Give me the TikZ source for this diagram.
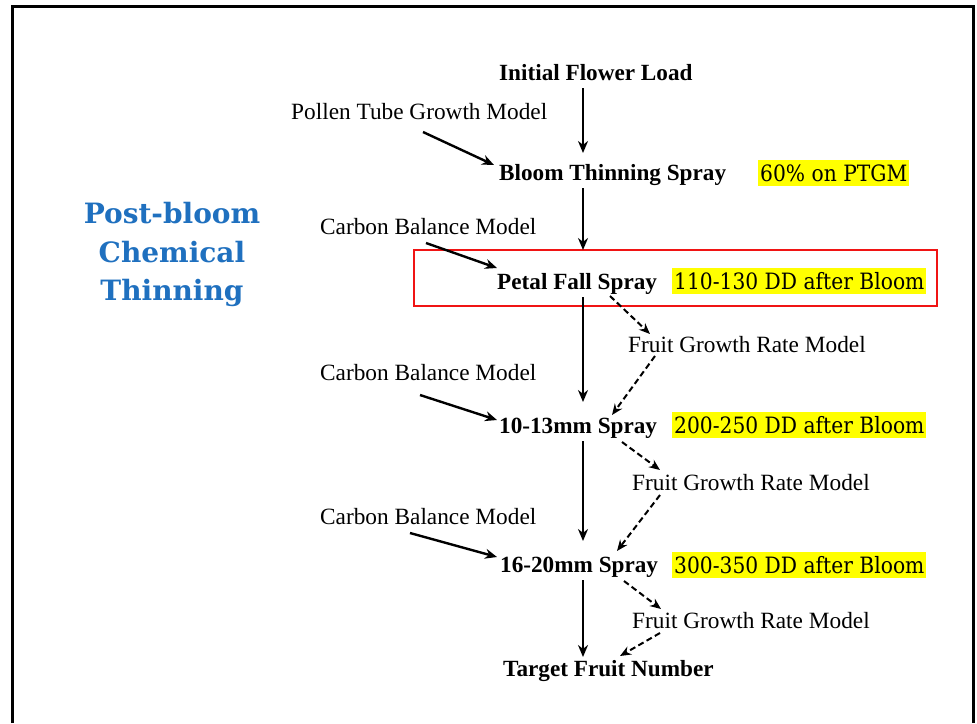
\documentclass[tikz,border=0pt]{standalone}
\usepackage{graphicx}
\usepackage{fontspec}
\setmainfont{Liberation Serif}
\newfontfamily\camb{DejaVu Serif}
\usetikzlibrary{arrows.meta,calc}
\definecolor{titleblue}{RGB}{31,112,191}
\definecolor{hl}{RGB}{255,255,0}
\definecolor{boxred}{RGB}{240,20,20}
\tikzset{
  lbl/.style={anchor=base west, inner sep=0pt, font=\fontsize{23.3}{28}\selectfont},
  blbl/.style={anchor=base west, inner sep=0pt, font=\fontsize{23.2}{28}\selectfont\bfseries},
  hlt/.style={anchor=base west, fill=hl, inner xsep=2pt, inner ysep=0pt, text height=21pt, text depth=5pt, font=\camb\fontsize{22.5}{26}\selectfont},
  ttl/.style={anchor=base, inner sep=0pt, text=titleblue, font=\camb\fontsize{28}{32}\selectfont\bfseries},
  arr/.style={line width=2.4pt, -{Stealth[length=12pt,width=10pt]}},
  darr/.style={line width=2pt, dash pattern=on 6pt off 3.5pt, -{Stealth[length=11pt,width=9pt]}},
}
\begin{document}
\begin{tikzpicture}[x=1pt,y=-1pt]
\useasboundingbox (0,0) rectangle (977,723);
% frame
\draw[line width=2.5pt] (12.5,723) -- (12.5,6.5) -- (973.5,6.5) -- (973.5,723);
% title
\node[ttl] (t1) at (172,223) {Post-bloom};
\node[ttl] (t2) at (172,262) {Chemical};
\node[ttl] (t3) at (172,300) {Thinning};
% red box
\node[draw=boxred, line width=2.8pt, minimum width=523pt, minimum height=56pt, inner sep=0pt] (redbox) at (675.5,278) {};
% main nodes
\node[blbl] (init) at (499,80) {Initial Flower Load};
\node[lbl] (pollen) at (291,119) {Pollen Tube Growth Model};
\node[blbl] (bloom) at (499,180) {Bloom Thinning Spray};
\node[hlt] (ptgm) at (758,181) {\scalebox{0.9}[1]{60\% on PTGM}};
\node[lbl] (cb1) at (320,234) {Carbon Balance Model};
\node[blbl] (petal) at (497,289) {Petal Fall Spray};
\node[hlt] (dd1) at (672,289) {\scalebox{0.9}[1]{110-130 DD after Bloom}};
\node[lbl] (fg1) at (628,352) {Fruit Growth Rate Model};
\node[lbl] (cb2) at (320,380) {Carbon Balance Model};
\node[blbl] (s1013) at (499,433) {10-13mm Spray};
\node[hlt] (dd2) at (672,433) {\scalebox{0.9}[1]{200-250 DD after Bloom}};
\node[lbl] (fg2) at (632,490) {Fruit Growth Rate Model};
\node[lbl] (cb3) at (320,524) {Carbon Balance Model};
\node[blbl] (s1620) at (500,572) {16-20mm Spray};
\node[hlt] (dd3) at (672,573) {\scalebox{0.9}[1]{300-350 DD after Bloom}};
\node[lbl] (fg3) at (632,628) {Fruit Growth Rate Model};
\node[blbl] (target) at (503,676) {Target Fruit Number};
% vertical spine arrows
\draw[arr] ($(init.base west)+(84,8)$) -- ($(bloom.base west)+(84,-27)$);
\draw[arr] ($(bloom.base west)+(84,8)$) -- ($(petal.base west)+(86,-39)$);
\draw[arr] ($(petal.base west)+(86,8)$) -- ($(s1013.base west)+(84,-31)$);
\draw[arr] ($(s1013.base west)+(84,8)$) -- ($(s1620.base west)+(83,-31)$);
\draw[arr] ($(s1620.base west)+(83,8)$) -- ($(target.base west)+(80,-19)$);
% model inputs
\draw[arr] ($(pollen.base west)+(132,13)$) -- ($(bloom.base west)+(-5,-15)$);
\draw[arr] ($(cb1.base west)+(106,9)$) -- ($(petal.base west)+(0,-21)$);
\draw[arr] ($(cb2.base west)+(100,15)$) -- ($(s1013.base west)+(-2,-13)$);
\draw[arr] ($(cb3.base west)+(90,9)$) -- ($(s1620.base west)+(-3,-15)$);
% dashed fruit growth loops
\draw[darr] ($(petal.base west)+(113,7)$) -- ($(fg1.base west)+(22,-18)$);
\draw[darr] ($(fg1.base west)+(27,4)$) -- ($(s1013.base west)+(113,-18)$);
\draw[darr] ($(s1013.base west)+(123,9)$) -- ($(fg2.base west)+(28,-20)$);
\draw[darr] ($(fg2.base west)+(28,5)$) -- ($(s1620.base west)+(117,-21)$);
\draw[darr] ($(s1620.base west)+(124,9)$) -- ($(fg3.base west)+(29,-19)$);
\draw[darr] ($(fg3.base west)+(28,5)$) -- ($(target.base west)+(117,-20)$);
\end{tikzpicture}
\end{document}
